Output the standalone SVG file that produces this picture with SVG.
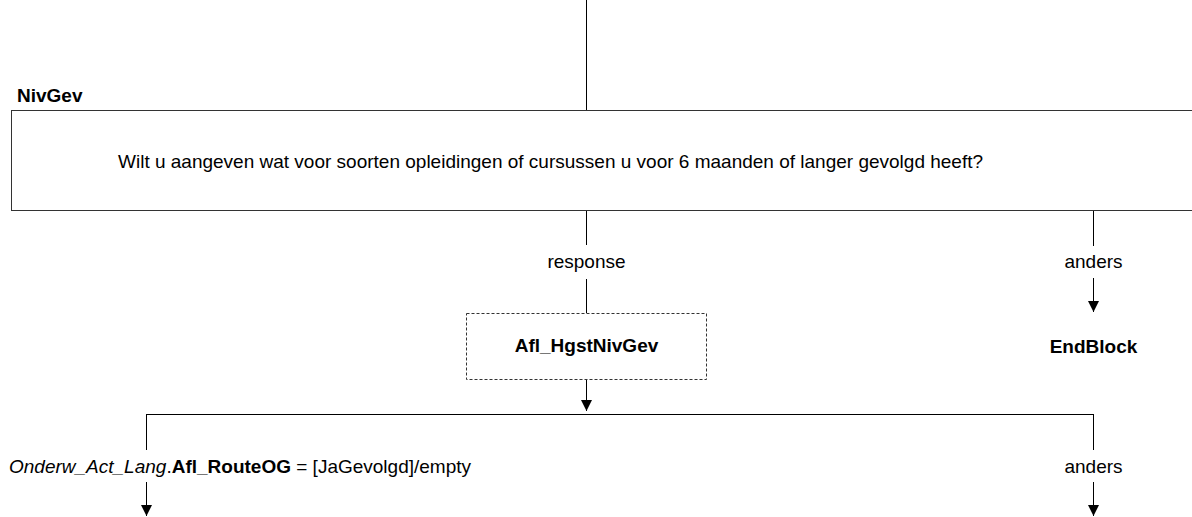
<svg xmlns="http://www.w3.org/2000/svg" width="1192" height="517" viewBox="0 0 1192 517">
<defs>
<marker id="ah" markerWidth="11" markerHeight="11" refX="11" refY="5.5" orient="auto" markerUnits="userSpaceOnUse">
<path d="M0,0 L11,5.5 L0,11 Z" fill="#000"/>
</marker>
</defs>
<style>
text{font-family:"Liberation Sans",Arial,sans-serif;font-size:19px;fill:#000}
.b{font-weight:bold}
.i{font-style:italic}
.c{text-anchor:middle}
.ln{stroke:#000;stroke-width:1;fill:none}
.arr{stroke:#000;stroke-width:1;fill:none;marker-end:url(#ah)}
</style>
<rect width="1192" height="517" fill="#fff"/>
<g id="connectors">
<line class="ln" x1="586.5" y1="0" x2="586.5" y2="110"/>
<line class="ln" x1="586.5" y1="211" x2="586.5" y2="245"/>
<line class="ln" x1="586.5" y1="279" x2="586.5" y2="313"/>
<line class="arr" x1="586.5" y1="380" x2="586.5" y2="411"/>
<line class="ln" x1="1093.5" y1="211" x2="1093.5" y2="246"/>
<line class="arr" x1="1093.5" y1="278" x2="1093.5" y2="312"/>
<line class="ln" x1="146.5" y1="414.5" x2="1093.5" y2="414.5"/>
<line class="ln" x1="146.5" y1="414" x2="146.5" y2="450"/>
<line class="arr" x1="146.5" y1="482" x2="146.5" y2="516"/>
<line class="ln" x1="1093.5" y1="414" x2="1093.5" y2="450"/>
<line class="arr" x1="1093.5" y1="482" x2="1093.5" y2="516"/>
<text class="c" x="586.5" y="268">response</text>
<text class="c" x="1093.5" y="268">anders</text>
<text x="9" y="473"><tspan class="i">Onderw_Act_Lang</tspan>.<tspan class="b">Afl_RouteOG</tspan> = [JaGevolgd]/empty</text>
<text class="c" x="1093.5" y="473">anders</text>
</g>
<g id="NivGev">
<text class="b" x="17" y="102">NivGev</text>
<rect x="11.5" y="110.5" width="1200" height="100" fill="#fff" stroke="#333" stroke-width="1"/>
<text x="118" y="168">Wilt u aangeven wat voor soorten opleidingen of cursussen u voor 6 maanden of langer gevolgd heeft?</text>
</g>
<g id="Afl_HgstNivGev">
<rect x="466.5" y="313.5" width="240" height="66" fill="#fff" stroke="#333" stroke-width="1" stroke-dasharray="3,2"/>
<text class="b c" x="586.5" y="352">Afl_HgstNivGev</text>
</g>
<g id="EndBlock">
<text class="b c" x="1093.5" y="353">EndBlock</text>
</g>
</svg>
